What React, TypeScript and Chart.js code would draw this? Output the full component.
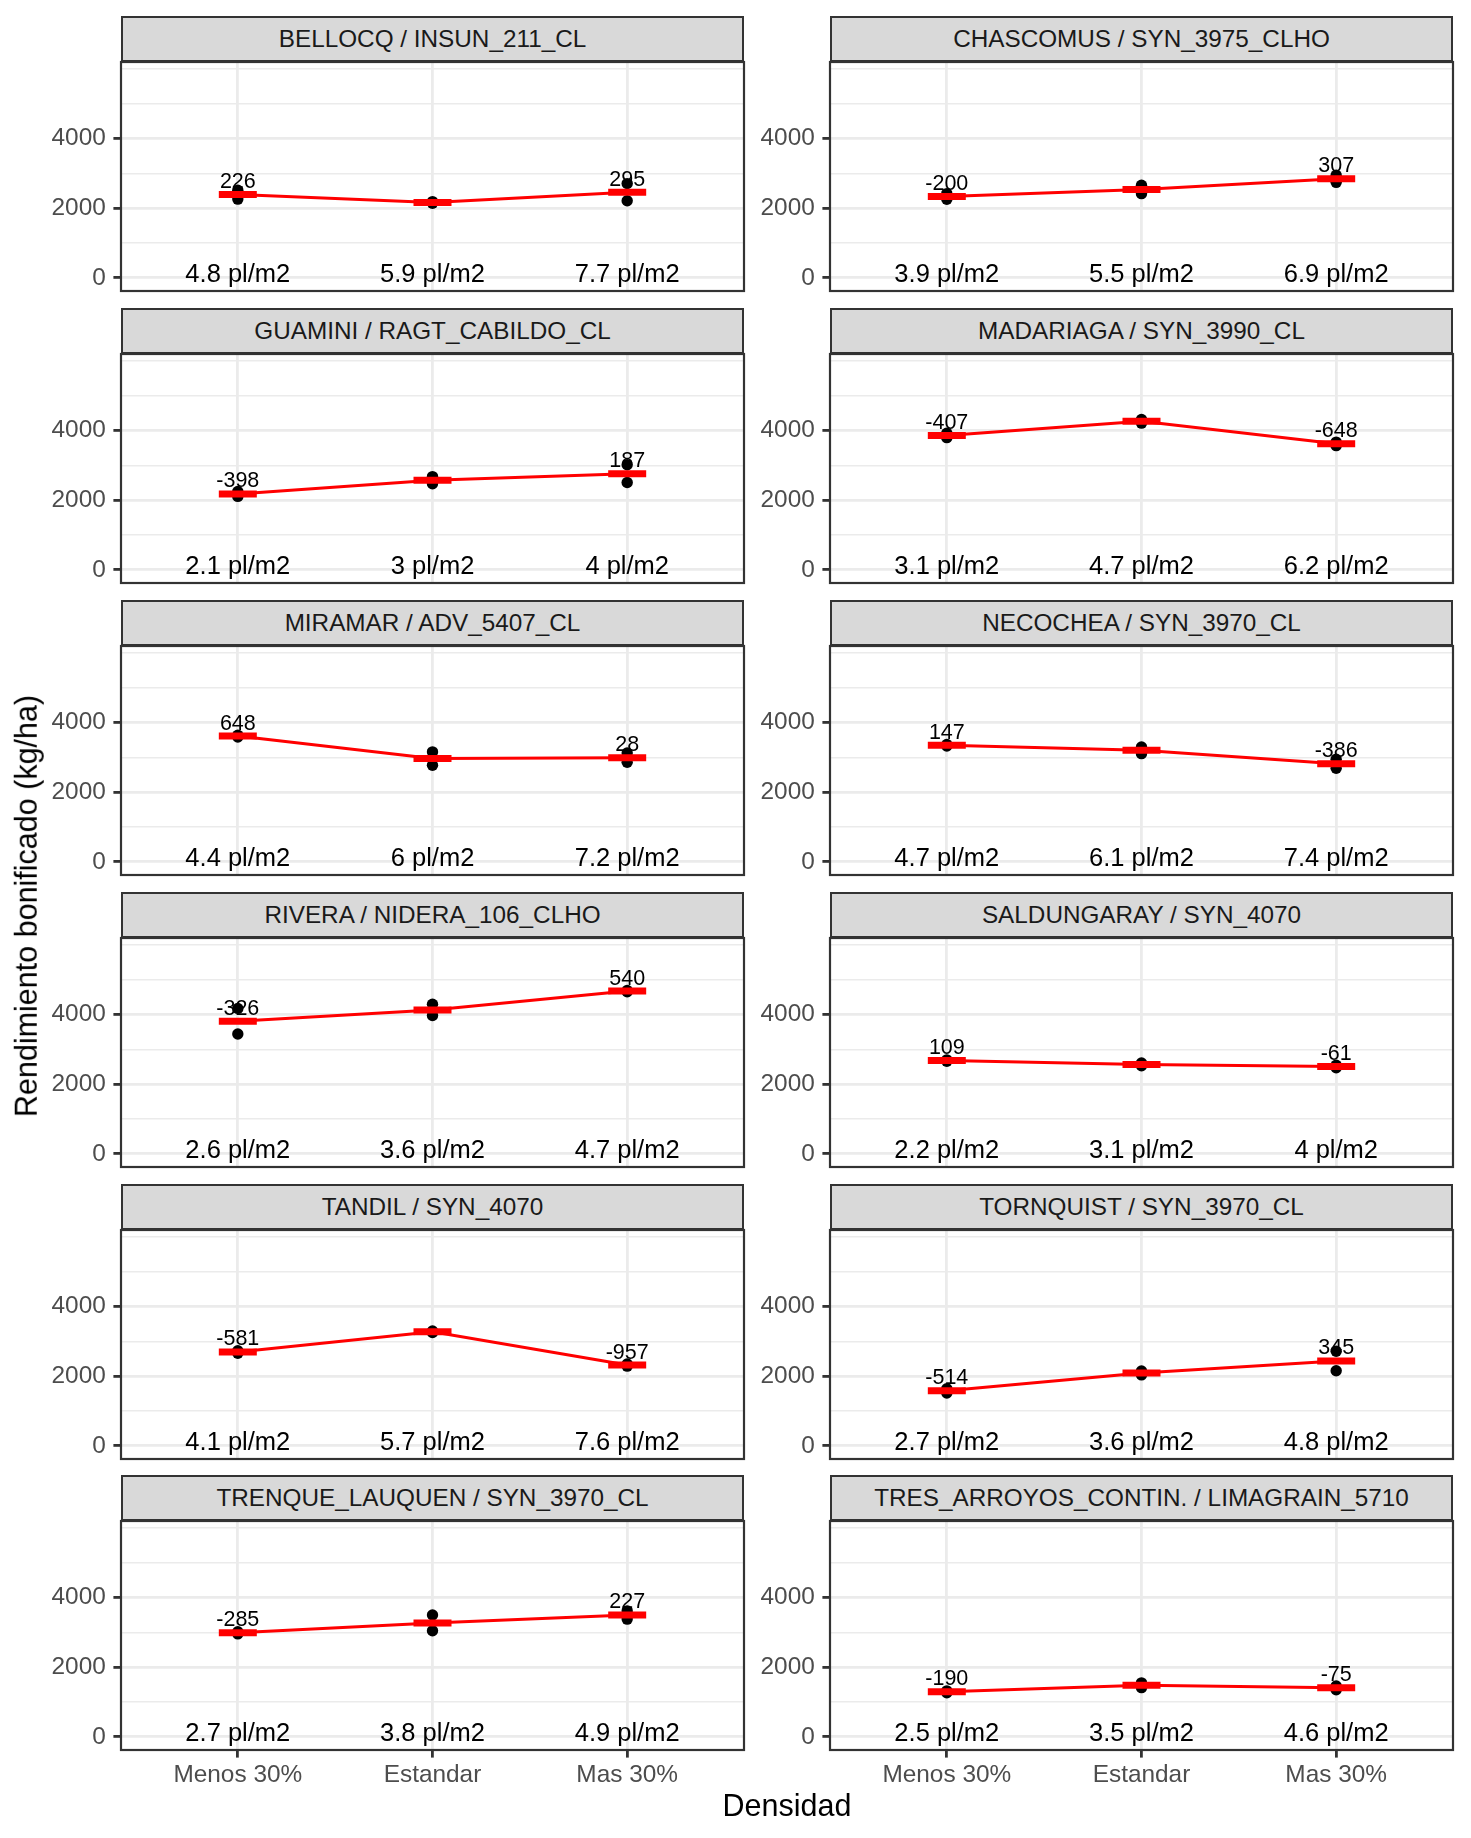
import React, { useEffect, useRef } from 'react';
import { Chart, registerables } from 'chart.js';

Chart.register(...registerables);

const FONT = "'Liberation Sans', Arial, Helvetica, sans-serif";

// ---------------- data ----------------
const densityLevels = ['Menos 30%', 'Estandar', 'Mas 30%'];

const panelTitles = [
  'BELLOCQ / INSUN_211_CL',
  'CHASCOMUS / SYN_3975_CLHO',
  'GUAMINI / RAGT_CABILDO_CL',
  'MADARIAGA / SYN_3990_CL',
  'MIRAMAR / ADV_5407_CL',
  'NECOCHEA / SYN_3970_CL',
  'RIVERA / NIDERA_106_CLHO',
  'SALDUNGARAY / SYN_4070',
  'TANDIL / SYN_4070',
  'TORNQUIST / SYN_3970_CL',
  'TRENQUE_LAUQUEN / SYN_3970_CL',
  'TRES_ARROYOS_CONTIN. / LIMAGRAIN_5710',
];

const plantDensity = [
  ['4.8 pl/m2', '5.9 pl/m2', '7.7 pl/m2'],
  ['3.9 pl/m2', '5.5 pl/m2', '6.9 pl/m2'],
  ['2.1 pl/m2', '3 pl/m2', '4 pl/m2'],
  ['3.1 pl/m2', '4.7 pl/m2', '6.2 pl/m2'],
  ['4.4 pl/m2', '6 pl/m2', '7.2 pl/m2'],
  ['4.7 pl/m2', '6.1 pl/m2', '7.4 pl/m2'],
  ['2.6 pl/m2', '3.6 pl/m2', '4.7 pl/m2'],
  ['2.2 pl/m2', '3.1 pl/m2', '4 pl/m2'],
  ['4.1 pl/m2', '5.7 pl/m2', '7.6 pl/m2'],
  ['2.7 pl/m2', '3.6 pl/m2', '4.8 pl/m2'],
  ['2.7 pl/m2', '3.8 pl/m2', '4.9 pl/m2'],
  ['2.5 pl/m2', '3.5 pl/m2', '4.6 pl/m2'],
];

// mean yield (kg/ha) per density level
const meanYield = [
  [2394, 2168, 2463],
  [2340, 2540, 2847],
  [2180, 2578, 2765],
  [3862, 4269, 3621],
  [3615, 2967, 2995],
  [3352, 3205, 2819],
  [3812, 4138, 4678],
  [2680, 2571, 2510],
  [2697, 3278, 2321],
  [1580, 2094, 2439],
  [2990, 3275, 3502],
  [1292, 1482, 1407],
];

// difference vs. standard density (labels)
const diffVsStandard = [
  [226, null, 295],
  [-200, null, 307],
  [-398, null, 187],
  [-407, null, -648],
  [648, null, 28],
  [147, null, -386],
  [-326, null, 540],
  [109, null, -61],
  [-581, null, -957],
  [-514, null, 345],
  [-285, null, 227],
  [-190, null, -75],
];

// replicate yields (kg/ha) per density level
const replicateYield = [
  [[2516, 2262], [2145, 2191], [2709, 2217]],
  [[2420, 2260], [2660, 2420], [2950, 2744]],
  [[2110, 2250], [2680, 2476], [3020, 2510]],
  [[3800, 3924], [4320, 4218], [3570, 3672]],
  [[3590, 3640], [3160, 2774], [3130, 2860]],
  [[3330, 3374], [3300, 3110], [2950, 2688]],
  [[4180, 3444], [4300, 3976], [4660, 4696]],
  [[2700, 2660], [2610, 2532], [2545, 2475]],
  [[2660, 2734], [3300, 3256], [2290, 2352]],
  [[1640, 1520], [2150, 2038], [2720, 2158]],
  [[2960, 3020], [3500, 3050], [3620, 3384]],
  [[1320, 1264], [1550, 1414], [1460, 1354]],
];

const yGridValues = [0, 1000, 2000, 3000, 4000, 5000, 6000];
const yTickLabels = [0, 2000, 4000];
const Y_MIN = -380;
const Y_MAX = 6205;

// ---------------- layout ----------------
const PANEL_LEFT = [121, 830];
const PANEL_W = 623;
const STRIP_TOP0 = 16.4;
const ROW_STEP = 291.8;
const STRIP_H = 46;
const PLOT_H = 228.5;
const Y_AXIS_W = 110;
const PAD_T = 26;
const PAD_B = 26;
const PAD_R = 26;
const X_AXIS_H = 60;

function Panel({ idx }: { idx: number }) {
  const ref = useRef<HTMLCanvasElement | null>(null);
  const row = Math.floor(idx / 2);
  const col = idx % 2;
  const isBottom = row === 5;
  const stripTop = Math.round(STRIP_TOP0 + row * ROW_STEP);
  const plotTop = stripTop + STRIP_H;
  const canvasLeft = PANEL_LEFT[col] - Y_AXIS_W;
  const canvasTop = plotTop - PAD_T;
  const canvasW = Y_AXIS_W + PANEL_W + PAD_R;
  const padBottom = isBottom ? 4 : PAD_B;
  const canvasH = Math.round(PAD_T + PLOT_H + (isBottom ? X_AXIS_H : 0) + padBottom);

  useEffect(() => {
    if (!ref.current) return;
    const means = meanYield[idx].map((v, i) => ({ x: i + 1, y: v }));
    const reps: { x: number; y: number }[] = [];
    replicateYield[idx].forEach((arr, i) => arr.forEach((v) => reps.push({ x: i + 1, y: v })));

    const annot = {
      id: 'annot',
      beforeDatasetsDraw(chart: any) {
        const { ctx, scales } = chart;
        const xs = scales.x;
        const ys = scales.y;
        ctx.save();
        ctx.fillStyle = '#000000';
        ctx.textAlign = 'center';
        ctx.textBaseline = 'alphabetic';
        ctx.font = `25.5px ${FONT}`;
        plantDensity[idx].forEach((t, i) => {
          ctx.fillText(t, xs.getPixelForValue(i + 1), ys.getPixelForValue(0) + 4.5);
        });
        ctx.font = `21.5px ${FONT}`;
        diffVsStandard[idx].forEach((d, i) => {
          if (d === null) return;
          ctx.fillText(String(d), xs.getPixelForValue(i + 1), ys.getPixelForValue(meanYield[idx][i]) - 6.5);
        });
        ctx.restore();
      },
      afterDraw(chart: any) {
        const { ctx, chartArea } = chart;
        ctx.save();
        ctx.strokeStyle = '#333333';
        ctx.lineWidth = 2.2;
        ctx.strokeRect(chartArea.left, chartArea.top, chartArea.right - chartArea.left, chartArea.bottom - chartArea.top);
        ctx.restore();
      },
    };

    const chart = new Chart(ref.current, {
      type: 'line',
      data: {
        datasets: [
          {
            data: means,
            borderColor: '#FF0000',
            borderWidth: 3,
            pointStyle: 'line',
            pointRadius: 19,
            pointBorderWidth: 7,
            pointBorderColor: '#FF0000',
            pointBackgroundColor: '#FF0000',
            fill: false,
            order: 0,
            tension: 0,
          } as any,
          {
            data: reps,
            showLine: false,
            pointStyle: 'circle',
            pointRadius: 5.7,
            pointBorderWidth: 0,
            pointBackgroundColor: '#000000',
            pointBorderColor: '#000000',
            order: 1,
          } as any,
        ],
      },
      options: {
        animation: false,
        responsive: false,
        maintainAspectRatio: false,
        events: [],
        layout: { padding: { top: PAD_T, bottom: padBottom, left: 0, right: PAD_R } },
        plugins: { legend: { display: false }, tooltip: { enabled: false }, title: { display: false } },
        scales: {
          x: {
            type: 'linear',
            min: 0.4,
            max: 3.6,
            afterBuildTicks: (scale: any) => {
              scale.ticks = [{ value: 1 }, { value: 2 }, { value: 3 }];
            },
            afterFit: (scale: any) => {
              scale.height = isBottom ? X_AXIS_H : 0;
            },
            border: { display: false },
            grid: {
              color: '#EBEBEB',
              lineWidth: 2.8,
              drawTicks: isBottom,
              tickLength: 7.6,
              tickColor: '#333333',
              tickWidth: 2.8,
            },
            ticks: {
              display: isBottom,
              autoSkip: false,
              maxRotation: 0,
              padding: 3,
              color: '#4D4D4D',
              font: { family: FONT, size: 24.4 },
              callback: (v: any) => densityLevels[Number(v) - 1] ?? '',
            },
          },
          y: {
            type: 'linear',
            min: Y_MIN,
            max: Y_MAX,
            afterBuildTicks: (scale: any) => {
              scale.ticks = yGridValues.map((v) => ({ value: v }));
            },
            afterFit: (scale: any) => {
              scale.width = Y_AXIS_W;
            },
            border: { display: false },
            grid: {
              color: '#EBEBEB',
              lineWidth: (c: any) => (c.tick && yTickLabels.includes(c.tick.value) ? 2.8 : 1.4),
              drawTicks: true,
              tickLength: 7.6,
              tickColor: (c: any) => (c.tick && yTickLabels.includes(c.tick.value) ? '#333333' : 'rgba(0,0,0,0)'),
              tickWidth: 2.8,
            },
            ticks: {
              autoSkip: false,
              padding: 7.6,
              color: '#4D4D4D',
              font: { family: FONT, size: 24.4 },
              callback: (v: any) => (yTickLabels.includes(Number(v)) ? String(v) : ''),
            },
          },
        },
      },
      plugins: [annot],
    } as any);
    return () => chart.destroy();
  }, [idx]);

  return (
    <>
      <div
        style={{
          position: 'absolute',
          left: PANEL_LEFT[col],
          top: stripTop,
          width: PANEL_W,
          height: STRIP_H,
          boxSizing: 'border-box',
          background: '#D9D9D9',
          border: '2px solid #333333',
          display: 'flex',
          alignItems: 'center',
          justifyContent: 'center',
          fontFamily: FONT,
          fontSize: 24.3,
          color: '#1A1A1A',
          whiteSpace: 'nowrap',
        }}
      >
        {panelTitles[idx]}
      </div>
      <canvas
        ref={ref}
        width={canvasW}
        height={canvasH}
        style={{ position: 'absolute', left: canvasLeft, top: canvasTop, width: canvasW, height: canvasH }}
      />
    </>
  );
}

export default function App() {
  return (
    <div
      style={{
        position: 'absolute',
        left: 0,
        top: 0,
        width: 1471,
        height: 1838,
        background: '#FFFFFF',
        overflow: 'hidden',
      }}
    >
      {panelTitles.map((_, i) => (
        <Panel key={i} idx={i} />
      ))}
      <div
        style={{
          position: 'absolute',
          left: 26,
          top: 906,
          transform: 'translate(-50%, -50%) rotate(-90deg)',
          whiteSpace: 'nowrap',
          fontFamily: FONT,
          fontSize: 30.5,
          color: '#000000',
          lineHeight: 1,
        }}
      >
        Rendimiento bonificado (kg/ha)
      </div>
      <div
        style={{
          position: 'absolute',
          left: 787,
          top: 1805,
          transform: 'translate(-50%, -50%)',
          whiteSpace: 'nowrap',
          fontFamily: FONT,
          fontSize: 30.5,
          color: '#000000',
          lineHeight: 1,
        }}
      >
        Densidad
      </div>
    </div>
  );
}
